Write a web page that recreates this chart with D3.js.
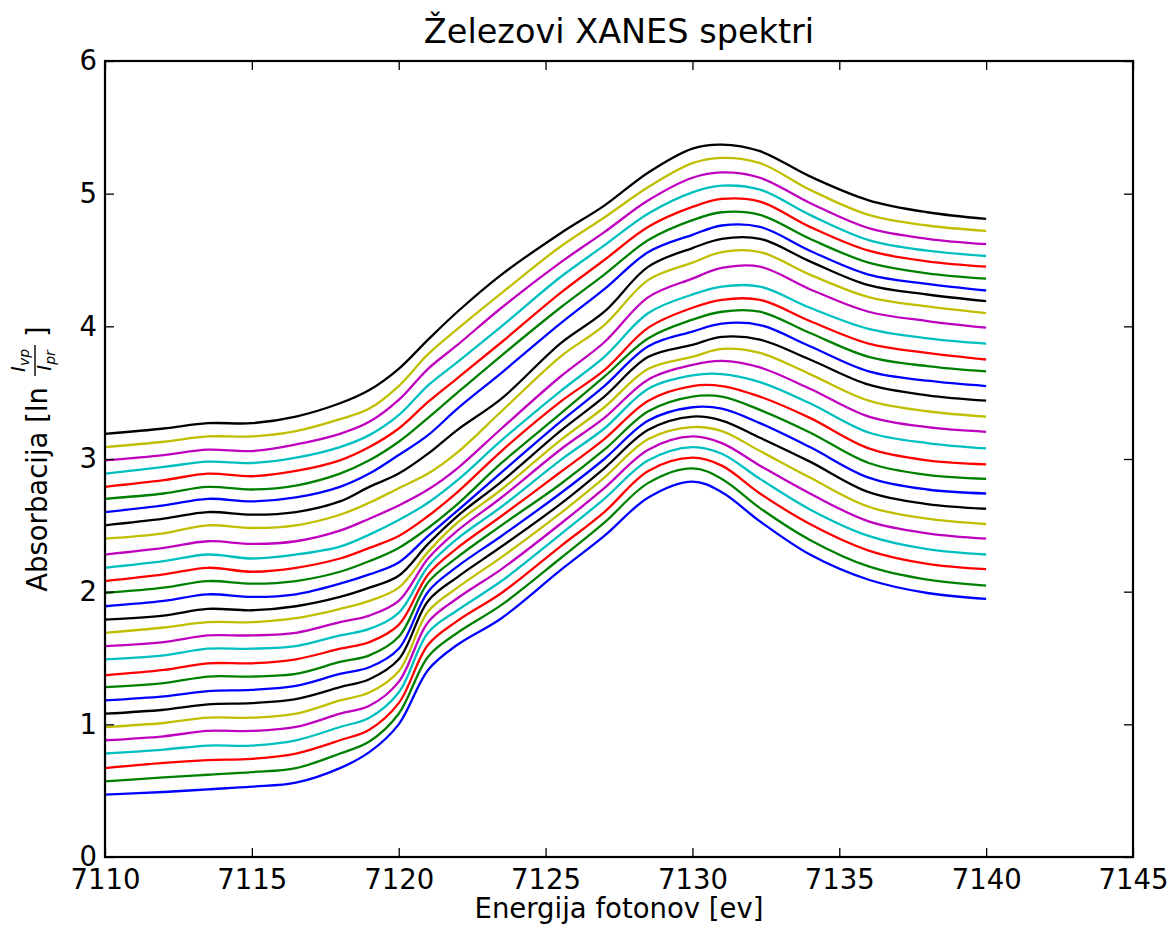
<!DOCTYPE html>
<html>
<head>
<meta charset="utf-8">
<script src="https://cdn.jsdelivr.net/npm/d3@7"></script>
<style>
  body { margin: 0; background: #fff; }
  text { font-family: "DejaVu Sans", sans-serif; fill: #000; }
</style>
</head>
<body>
<svg id="chart" width="1175" height="928"></svg>
<script>
// photon energies (eV) where every spectrum was read
const energies = [7110, 7112, 7113.5, 7115, 7116.5, 7118, 7119, 7120, 7121, 7122, 7123.5,
  7125.5, 7127, 7128.5, 7130, 7131, 7132.3, 7134, 7136, 7138, 7140];

// matplotlib classic colour cycle b g r c m y k
const lineColors = ['#0000ff', '#008000', '#ff0000', '#00bfbf', '#bf00bf', '#bfbf00', '#000000'];

// absorbance of each spectrum (already stacked), bottom to top
const spectra = [
  [0.47, 0.49, 0.51, 0.53, 0.56, 0.67, 0.79, 1.00, 1.41, 1.60, 1.80, 2.16, 2.42, 2.71, 2.83, 2.75, 2.53, 2.28, 2.09, 1.99, 1.945],
  [0.57, 0.60, 0.62, 0.64, 0.67, 0.78, 0.87, 1.08, 1.51, 1.69, 1.90, 2.25, 2.52, 2.82, 2.93, 2.85, 2.63, 2.39, 2.19, 2.09, 2.045],
  [0.67, 0.71, 0.73, 0.74, 0.78, 0.88, 0.96, 1.16, 1.60, 1.78, 1.99, 2.34, 2.60, 2.91, 3.01, 2.95, 2.74, 2.51, 2.31, 2.21, 2.17],
  [0.78, 0.81, 0.84, 0.84, 0.88, 0.98, 1.05, 1.24, 1.69, 1.86, 2.08, 2.43, 2.70, 2.99, 3.09, 3.04, 2.85, 2.62, 2.42, 2.32, 2.28],
  [0.88, 0.91, 0.95, 0.95, 0.98, 1.08, 1.14, 1.32, 1.77, 1.95, 2.17, 2.51, 2.78, 3.07, 3.17, 3.12, 2.95, 2.74, 2.53, 2.44, 2.40],
  [0.98, 1.01, 1.05, 1.05, 1.08, 1.18, 1.24, 1.40, 1.85, 2.03, 2.26, 2.59, 2.86, 3.15, 3.24, 3.21, 3.06, 2.86, 2.64, 2.55, 2.51],
  [1.08, 1.11, 1.15, 1.16, 1.19, 1.28, 1.34, 1.49, 1.93, 2.11, 2.34, 2.66, 2.93, 3.22, 3.32, 3.29, 3.16, 2.98, 2.75, 2.66, 2.625],
  [1.18, 1.21, 1.25, 1.26, 1.29, 1.38, 1.43, 1.57, 2.00, 2.19, 2.42, 2.74, 3.00, 3.29, 3.39, 3.38, 3.27, 3.09, 2.86, 2.77, 2.74],
  [1.28, 1.31, 1.36, 1.36, 1.38, 1.47, 1.52, 1.66, 2.07, 2.26, 2.50, 2.81, 3.07, 3.36, 3.47, 3.47, 3.37, 3.20, 2.97, 2.88, 2.85],
  [1.37, 1.41, 1.46, 1.46, 1.49, 1.57, 1.62, 1.75, 2.13, 2.33, 2.57, 2.90, 3.15, 3.44, 3.55, 3.55, 3.47, 3.31, 3.08, 2.99, 2.96],
  [1.49, 1.52, 1.57, 1.57, 1.59, 1.67, 1.72, 1.84, 2.19, 2.40, 2.64, 2.99, 3.23, 3.53, 3.63, 3.64, 3.58, 3.42, 3.20, 3.12, 3.08],
  [1.59, 1.62, 1.67, 1.67, 1.69, 1.77, 1.82, 1.93, 2.25, 2.46, 2.71, 3.07, 3.31, 3.60, 3.71, 3.74, 3.69, 3.53, 3.32, 3.24, 3.205],
  [1.69, 1.73, 1.77, 1.77, 1.80, 1.87, 1.93, 2.03, 2.30, 2.52, 2.77, 3.14, 3.39, 3.68, 3.77, 3.83, 3.80, 3.64, 3.44, 3.36, 3.32],
  [1.79, 1.82, 1.87, 1.86, 1.89, 1.96, 2.03, 2.12, 2.36, 2.57, 2.83, 3.21, 3.47, 3.77, 3.86, 3.92, 3.90, 3.75, 3.56, 3.48, 3.44],
  [1.89, 1.93, 1.98, 1.96, 1.98, 2.06, 2.13, 2.22, 2.42, 2.61, 2.90, 3.28, 3.55, 3.85, 3.96, 4.02, 4.01, 3.85, 3.66, 3.59, 3.55],
  [1.99, 2.03, 2.08, 2.06, 2.08, 2.15, 2.23, 2.33, 2.48, 2.66, 2.97, 3.34, 3.62, 3.91, 4.05, 4.11, 4.11, 3.95, 3.77, 3.70, 3.66],
  [2.08, 2.13, 2.18, 2.15, 2.18, 2.25, 2.33, 2.42, 2.57, 2.75, 3.06, 3.43, 3.67, 3.99, 4.14, 4.20, 4.20, 4.04, 3.87, 3.80, 3.75],
  [2.18, 2.23, 2.28, 2.25, 2.28, 2.34, 2.43, 2.54, 2.67, 2.84, 3.14, 3.51, 3.77, 4.10, 4.24, 4.30, 4.30, 4.14, 3.98, 3.91, 3.87],
  [2.28, 2.33, 2.38, 2.36, 2.38, 2.46, 2.55, 2.65, 2.77, 2.93, 3.23, 3.62, 3.88, 4.22, 4.36, 4.44, 4.45, 4.28, 4.11, 4.04, 3.99],
  [2.40, 2.44, 2.50, 2.48, 2.50, 2.58, 2.67, 2.78, 2.89, 3.05, 3.36, 3.77, 4.01, 4.35, 4.48, 4.56, 4.56, 4.39, 4.22, 4.15, 4.10],
  [2.50, 2.55, 2.60, 2.58, 2.60, 2.68, 2.79, 2.89, 3.04, 3.22, 3.455, 3.87, 4.11, 4.45, 4.59, 4.66, 4.66, 4.49, 4.31, 4.24, 4.19],
  [2.60, 2.65, 2.70, 2.68, 2.71, 2.79, 2.89, 3.03, 3.18, 3.38, 3.65, 4.02, 4.28, 4.56, 4.69, 4.76, 4.75, 4.57, 4.39, 4.32, 4.27],
  [2.70, 2.74, 2.79, 2.77, 2.80, 2.89, 2.99, 3.13, 3.31, 3.50, 3.78, 4.14, 4.39, 4.65, 4.80, 4.86, 4.84, 4.66, 4.48, 4.40, 4.36],
  [2.79, 2.84, 2.89, 2.87, 2.91, 2.99, 3.09, 3.23, 3.43, 3.61, 3.88, 4.25, 4.50, 4.75, 4.90, 4.96, 4.94, 4.75, 4.57, 4.49, 4.45],
  [2.89, 2.94, 2.98, 2.97, 3.01, 3.09, 3.18, 3.33, 3.555, 3.73, 4.00, 4.37, 4.61, 4.85, 5.01, 5.06, 5.03, 4.84, 4.65, 4.57, 4.53],
  [2.99, 3.03, 3.07, 3.06, 3.11, 3.19, 3.28, 3.445, 3.68, 3.86, 4.14, 4.48, 4.71, 4.95, 5.12, 5.16, 5.12, 4.93, 4.74, 4.66, 4.62],
  [3.09, 3.13, 3.17, 3.17, 3.21, 3.30, 3.38, 3.55, 3.79, 3.98, 4.25, 4.60, 4.82, 5.05, 5.23, 5.27, 5.23, 5.03, 4.84, 4.76, 4.72],
  [3.19, 3.23, 3.27, 3.27, 3.32, 3.42, 3.52, 3.68, 3.90, 4.11, 4.39, 4.70, 4.91, 5.16, 5.34, 5.37, 5.32, 5.13, 4.95, 4.86, 4.81]
];

const xTicks = [7110, 7115, 7120, 7125, 7130, 7135, 7140, 7145];
const yTicks = [0, 1, 2, 3, 4, 5, 6];

const margin = { top: 61, right: 42, bottom: 71, left: 105 };
const width = 1175 - margin.left - margin.right;
const height = 928 - margin.top - margin.bottom;

const svg = d3.select('#chart');
svg.append('rect').attr('width', 1175).attr('height', 928).attr('fill', '#fff');

const g = svg.append('g')
    .attr('transform', `translate(${margin.left}, ${margin.top})`);

const xScale = d3.scaleLinear().domain([7110, 7145]).range([0, width]);
const yScale = d3.scaleLinear().domain([0, 6]).range([height, 0]);

// Lines
const line = d3.line()
    .x((d) => xScale(d[0]))
    .y((d) => yScale(d[1]))
    .curve(d3.curveCatmullRom.alpha(0.5));

g.selectAll('.spectrum')
    .data(spectra)
    .enter()
    .append('path')
        .attr('class', 'spectrum')
        .attr('fill', 'none')
        .attr('stroke', (d, i) => lineColors[i % lineColors.length])
        .attr('stroke-width', 2.3)
        .attr('stroke-linejoin', 'round')
        .attr('d', (d) => line(d.map((v, j) => [energies[j], v])));

// Axes, ticks pointing inward on all four sides
const fontSize = 27.5;
const tickLen = 9;

g.append('g')
    .attr('transform', `translate(0, ${height})`)
    .call(d3.axisBottom(xScale).tickValues(xTicks).tickFormat(d3.format('d'))
        .tickSizeInner(-tickLen).tickSizeOuter(0).tickPadding(12));
g.append('g')
    .call(d3.axisTop(xScale).tickValues(xTicks).tickFormat('')
        .tickSizeInner(-tickLen).tickSizeOuter(0));
g.append('g')
    .call(d3.axisLeft(yScale).tickValues(yTicks).tickFormat(d3.format('d'))
        .tickSizeInner(-tickLen).tickSizeOuter(0).tickPadding(8));
g.append('g')
    .attr('transform', `translate(${width}, 0)`)
    .call(d3.axisRight(yScale).tickValues(yTicks).tickFormat('')
        .tickSizeInner(-tickLen).tickSizeOuter(0));

g.selectAll('.domain').remove();
g.selectAll('.tick line').attr('stroke', '#000').attr('stroke-width', 1.3);
g.selectAll('.tick text')
    .attr('font-family', '"DejaVu Sans", sans-serif')
    .attr('font-size', fontSize)
    .attr('fill', '#000');

// frame
g.append('rect')
    .attr('width', width)
    .attr('height', height)
    .attr('fill', 'none')
    .attr('stroke', '#000')
    .attr('stroke-width', 2.2);

// Title
svg.append('text')
    .attr('x', margin.left + width / 2)
    .attr('y', 43)
    .attr('text-anchor', 'middle')
    .attr('font-size', 33.5)
    .text('Železovi XANES spektri');

// X label
svg.append('text')
    .attr('x', margin.left + width / 2)
    .attr('y', 918)
    .attr('text-anchor', 'middle')
    .attr('font-size', fontSize)
    .text('Energija fotonov [ev]');

// Y label with a small fraction I_vp / I_pr
const yl = svg.append('g')
    .attr('transform', `translate(47, ${margin.top + height / 2}) rotate(-90)`);

const labelStart = yl.append('text')
    .attr('font-size', fontSize)
    .text('Absorbacija [ln');
const startLen = labelStart.node().getComputedTextLength();

const fracSize = 20;
const subSize = 14;
const fracGap = 11;

const num = yl.append('text')
    .attr('font-size', fracSize)
    .attr('y', -22);
num.append('tspan').attr('font-style', 'italic').text('I');
num.append('tspan').attr('font-style', 'italic').attr('font-size', subSize).attr('dy', 4).text('vp');

const den = yl.append('text')
    .attr('font-size', fracSize)
    .attr('y', 4);
den.append('tspan').attr('font-style', 'italic').text('I');
den.append('tspan').attr('font-style', 'italic').attr('font-size', subSize).attr('dy', 4).text('pr');

const numLen = num.node().getComputedTextLength();
const denLen = den.node().getComputedTextLength();
const fracW = Math.max(numLen, denLen) + 8;

const fracX = startLen + fracGap;
num.attr('x', fracX + (fracW - numLen) / 2);
den.attr('x', fracX + (fracW - denLen) / 2);

yl.append('line')
    .attr('x1', fracX).attr('x2', fracX + fracW)
    .attr('y1', -12).attr('y2', -12)
    .attr('stroke', '#000').attr('stroke-width', 1.4);

const closeB = yl.append('text')
    .attr('font-size', fontSize)
    .attr('x', fracX + fracW + 8)
    .text(']');

const totalLen = fracX + fracW + 8 + closeB.node().getComputedTextLength();
yl.selectAll('text, line').attr('transform', `translate(${-totalLen / 2}, 0)`);
</script>
</body>
</html>
